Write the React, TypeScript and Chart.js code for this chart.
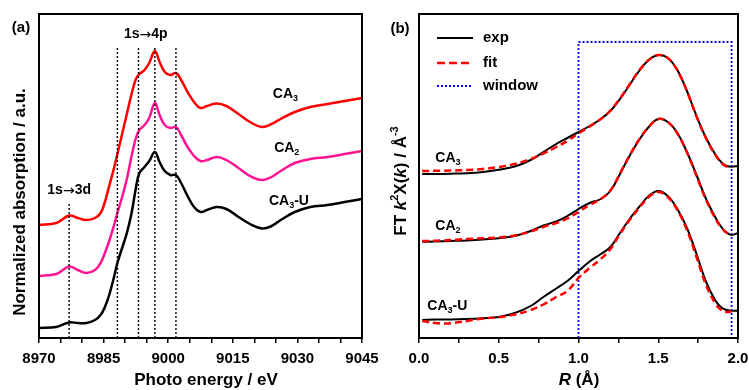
import React, { useEffect, useRef } from "react";
import { Chart, registerables } from "chart.js";

Chart.register(...registerables);

const FAMILY = "'Liberation Sans', Arial, Helvetica, sans-serif";

// ---------------- Panel (a): XANES ----------------
const energy = [
  8970, 8974, 8977, 8979, 8981, 8983, 8984.3, 8985.3, 8986.3, 8987.3, 8988.2, 8989.3, 8990.4,
  8991.5, 8992.5, 8993.3, 8994.5, 8995.6, 8996.9, 8998, 8999.2, 9000.5, 9001.8, 9003, 9004.5,
  9006, 9007.5, 9009, 9011.3, 9013.5, 9016, 9019, 9021.8, 9024, 9026.5, 9029.4, 9033, 9037, 9041, 9045,
];
const absCA3 = [
  1.13, 1.15, 1.225, 1.2, 1.18, 1.2, 1.25, 1.36, 1.52, 1.68, 1.84, 2.04, 2.24,
  2.44, 2.59, 2.64, 2.68, 2.75, 2.87, 2.76, 2.66, 2.63, 2.65, 2.58, 2.46,
  2.36, 2.3, 2.32, 2.345, 2.32, 2.25, 2.16, 2.11, 2.14, 2.2, 2.26, 2.31, 2.34, 2.37, 2.4,
];
const absCA2 = [
  0.62, 0.64, 0.715, 0.68, 0.65, 0.68, 0.75, 0.85, 0.97, 1.11, 1.25, 1.41, 1.59,
  1.82, 2.0, 2.08, 2.13, 2.2, 2.35, 2.23, 2.13, 2.1, 2.11, 2.03, 1.91,
  1.82, 1.77, 1.78, 1.81, 1.78, 1.71, 1.62, 1.58, 1.61, 1.68, 1.75, 1.79, 1.81, 1.84, 1.87,
];
const absCA3U = [
  0.1, 0.11, 0.155, 0.15, 0.15, 0.18, 0.23, 0.31, 0.43, 0.59, 0.75, 0.9, 1.05,
  1.25, 1.5, 1.65, 1.71, 1.77, 1.86, 1.76, 1.67, 1.63, 1.63, 1.55, 1.42,
  1.31, 1.26, 1.28, 1.31, 1.29, 1.22, 1.14, 1.095, 1.12, 1.19, 1.26, 1.31, 1.33, 1.36, 1.39,
];
const preEdgeLine = 8977;
const preEdgeTop = 1.35;
const mainEdgeLines = [8988.2, 8993.1, 8996.9, 9001.8];
const mainEdgeTop = 2.9;
const energyMin = 8970;
const energyMax = 9045;
const energyStep = 5;
const energyLabelEvery = 15;

// ---------------- Panel (b): FT-EXAFS ----------------
const rGrid = [
  0.02, 0.1, 0.2, 0.3, 0.4, 0.5, 0.6, 0.7, 0.78, 0.86, 0.93, 1.0, 1.07, 1.14, 1.2, 1.26,
  1.32, 1.38, 1.44, 1.5, 1.56, 1.62, 1.68, 1.74, 1.8, 1.86, 1.9, 1.93, 1.96, 2.0,
];
const expCA3 = [
  1.64, 1.64, 1.643, 1.648, 1.66, 1.683, 1.715, 1.78, 1.86, 1.94, 2.0, 2.06, 2.12, 2.19, 2.27, 2.39,
  2.53, 2.67, 2.78, 2.83, 2.8, 2.68, 2.47, 2.22, 2.0, 1.83, 1.75, 1.72, 1.713, 1.72,
];
const fitCA3 = [
  1.67, 1.672, 1.675, 1.68, 1.69, 1.71, 1.74, 1.79, 1.845, 1.91, 1.97, 2.045, 2.115, 2.19, 2.275, 2.395,
  2.535, 2.675, 2.78, 2.83, 2.8, 2.675, 2.465, 2.215, 1.995, 1.825, 1.745, 1.715, 1.71, null,
];
const expCA2 = [
  0.963, 0.965, 0.97, 0.976, 0.985, 0.998, 1.02, 1.07, 1.125, 1.165, 1.22, 1.29, 1.35, 1.39, 1.47, 1.64,
  1.82, 1.98, 2.11, 2.19, 2.16, 2.05, 1.86, 1.63, 1.39, 1.2, 1.1, 1.055, 1.03, 1.05,
];
const fitCA2 = [
  0.97, 0.972, 0.98, 0.99, 0.997, 1.005, 1.025, 1.065, 1.11, 1.15, 1.195, 1.26, 1.33, 1.39, 1.475, 1.645,
  1.825, 1.985, 2.11, 2.19, 2.16, 2.045, 1.855, 1.62, 1.38, 1.19, 1.095, 1.05, 1.03, null,
];
const expCA3U = [
  0.18, 0.185, 0.185, 0.19, 0.198, 0.21, 0.25, 0.32, 0.41, 0.495, 0.57, 0.67, 0.765, 0.84, 0.91, 1.05,
  1.19, 1.31, 1.42, 1.47, 1.42, 1.29, 1.1, 0.84, 0.56, 0.37, 0.3, 0.28, 0.273, 0.273,
];
const fitCA3U = [
  0.17, 0.15, 0.148, 0.17, 0.195, 0.208, 0.235, 0.28, 0.335, 0.41, 0.47, 0.6, 0.7, 0.79, 0.89, 1.04,
  1.18, 1.3, 1.41, 1.46, 1.41, 1.28, 1.08, 0.81, 0.53, 0.34, 0.275, 0.26, 0.265, null,
];
const windowR = [1.0, 1.96];
const windowTop = 2.96;
const rMin = 0;
const rMax = 2;
const rStep = 0.25;

const Y_MAX = 3.24;

const RED = "#FF0000";
const MAGENTA = "#FF1493";
const BLUE = "#0000FF";

type Run = { t: string; font: string; dy?: number };
const B = (s: number) => `bold ${s}px ${FAMILY}`;
const BI = (s: number) => `italic bold ${s}px ${FAMILY}`;
const ARROW = `14px 'DejaVu Sans', sans-serif`;

function drawRuns(ctx: CanvasRenderingContext2D, runs: Run[], x: number, y: number, align: "left" | "center", baseline: CanvasTextBaseline = "middle") {
  let w = 0;
  for (const r of runs) {
    ctx.font = r.font;
    w += ctx.measureText(r.t).width;
  }
  let cx = align === "center" ? x - w / 2 : x;
  ctx.textAlign = "left";
  ctx.textBaseline = baseline;
  ctx.fillStyle = "#000";
  for (const r of runs) {
    ctx.font = r.font;
    ctx.fillText(r.t, cx, y + (r.dy || 0));
    cx += ctx.measureText(r.t).width;
  }
}

const caLabel = (sub: string, tail = ""): Run[] => {
  const runs: Run[] = [
    { t: "CA", font: B(14) },
    { t: sub, font: B(9), dy: 5 },
  ];
  if (tail) runs.push({ t: tail, font: B(14) });
  return runs;
};

const transition = (a: string, b: string): Run[] => [
  { t: a, font: B(14) },
  { t: "\u2192", font: ARROW, dy: 1 },
  { t: b, font: B(14) },
];

const labelsA: { x: number; y: number; runs: Run[]; align: "left" | "center" }[] = [
  { x: 9024.3, y: 2.44, runs: caLabel("3"), align: "left" },
  { x: 9024.6, y: 1.9, runs: caLabel("2"), align: "left" },
  { x: 9023.4, y: 1.37, runs: caLabel("3", "-U"), align: "left" },
  { x: 8977, y: 1.48, runs: transition("1s", "3d"), align: "center" },
  { x: 8994.8, y: 3.04, runs: transition("1s", "4p"), align: "center" },
];

const labelsB: { x: number; y: number; runs: Run[]; align: "left" | "center" }[] = [
  { x: 0.102, y: 1.8, runs: caLabel("3"), align: "left" },
  { x: 0.102, y: 1.12, runs: caLabel("2"), align: "left" },
  { x: 0.052, y: 0.32, runs: caLabel("3", "-U"), align: "left" },
];

function frameAndText(opts: {
  labels: { x: number; y: number; runs: Run[]; align: "left" | "center" }[];
  panel: { t: string; x: number; y: number };
  xTitle: { runs: Run[]; x: number; y: number };
  yTitle: { runs: Run[]; x: number; y: number };
  legend?: boolean;
}) {
  return {
    id: "frameAndText",
    afterDraw(chart: any) {
      const ctx: CanvasRenderingContext2D = chart.ctx;
      const { left, top, right, bottom } = chart.chartArea;
      const xs = chart.scales.x;
      const ys = chart.scales.y;
      ctx.save();
      ctx.setLineDash([]);
      ctx.strokeStyle = "#000";
      ctx.lineWidth = 2;
      ctx.strokeRect(left, top, right - left, bottom - top);

      for (const l of opts.labels) {
        drawRuns(ctx, l.runs, xs.getPixelForValue(l.x), ys.getPixelForValue(l.y), l.align);
      }
      drawRuns(ctx, [{ t: opts.panel.t, font: B(15) }], opts.panel.x, opts.panel.y, "center");
      drawRuns(ctx, opts.xTitle.runs, opts.xTitle.x, opts.xTitle.y, "center", "alphabetic");

      ctx.save();
      ctx.translate(opts.yTitle.x, opts.yTitle.y);
      ctx.rotate(-Math.PI / 2);
      drawRuns(ctx, opts.yTitle.runs, 0, 0, "center");
      ctx.restore();

      if (opts.legend) {
        const items = [
          { t: "exp", color: "#000", dash: [] as number[], w: 2 },
          { t: "fit", color: RED, dash: [8, 4], w: 2.5 },
          { t: "window", color: BLUE, dash: [2, 2], w: 2 },
        ];
        const ly = [38, 63, 86];
        items.forEach((it, i) => {
          ctx.beginPath();
          ctx.setLineDash(it.dash);
          ctx.strokeStyle = it.color;
          ctx.lineWidth = it.w;
          ctx.moveTo(62, ly[i]);
          ctx.lineTo(98, ly[i]);
          ctx.stroke();
          ctx.setLineDash([]);
          drawRuns(ctx, [{ t: it.t, font: B(15) }], 108, ly[i], "left");
        });
      }
      ctx.restore();
    },
  };
}

const pts = (xs: number[], ys: (number | null)[]) => xs.map((x, i) => ({ x, y: ys[i] }));

const curve = (data: any[], color: string, width: number, dash: number[] = []) => ({
  data,
  borderColor: color,
  backgroundColor: color,
  borderWidth: width,
  borderDash: dash,
  pointRadius: 0,
  tension: 0.4,
  spanGaps: false,
});

const vline = (x: number, top: number) => ({
  data: [
    { x, y: 0 },
    { x, y: top },
  ],
  borderColor: "#000",
  borderWidth: 1.4,
  borderDash: [2, 2],
  pointRadius: 0,
});

const tickFont = { family: FAMILY, size: 15, weight: "bold" as const };

const fitAxis = (s: any) => {
  s.height = 52;
  s.paddingLeft = 0;
  s.paddingRight = 0;
};

export default function App() {
  const refA = useRef<HTMLCanvasElement>(null);
  const refB = useRef<HTMLCanvasElement>(null);

  useEffect(() => {
    const chartA = new Chart(refA.current!, {
      type: "line",
      data: {
        datasets: [
          vline(preEdgeLine, preEdgeTop),
          ...mainEdgeLines.map((e) => vline(e, mainEdgeTop)),
          curve(pts(energy, absCA3), RED, 2.5),
          curve(pts(energy, absCA2), MAGENTA, 2.5),
          curve(pts(energy, absCA3U), "#000", 2.5),
        ] as any,
      },
      options: {
        animation: false,
        responsive: false,
        maintainAspectRatio: false,
        layout: { padding: { left: 39, top: 14, right: 28, bottom: 0 } },
        plugins: { legend: { display: false }, tooltip: { enabled: false } },
        scales: {
          x: {
            type: "linear",
            min: energyMin,
            max: energyMax,
            ticks: {
              stepSize: energyStep,
              autoSkip: false,
              maxRotation: 0,
              padding: 7,
              color: "#000",
              font: tickFont,
              callback: (v: any) => (Math.round(v) % energyLabelEvery === 0 ? String(Math.round(v)) : ""),
            },
            grid: { drawOnChartArea: false, drawTicks: true, tickLength: 5, color: "#000", lineWidth: 1.5 },
            border: { display: false },
            afterFit: fitAxis,
          },
          y: { type: "linear", display: false, min: 0, max: Y_MAX },
        },
      } as any,
      plugins: [
        frameAndText({
          labels: labelsA,
          panel: { t: "(a)", x: 21, y: 28 },
          xTitle: { runs: [{ t: "Photo energy / eV", font: B(17) }], x: 206, y: 385 },
          yTitle: { runs: [{ t: "Normalized absorption / a.u.", font: B(17) }], x: 20.5, y: 202 },
        }),
      ],
    });

    const chartB = new Chart(refB.current!, {
      type: "line",
      data: {
        datasets: [
          curve(pts(rGrid, fitCA3), RED, 2.5, [7, 4]),
          curve(pts(rGrid, fitCA2), RED, 2.5, [7, 4]),
          curve(pts(rGrid, fitCA3U), RED, 2.5, [7, 4]),
          curve(pts(rGrid, expCA3), "#000", 2),
          curve(pts(rGrid, expCA2), "#000", 2),
          curve(pts(rGrid, expCA3U), "#000", 2),
          {
            data: [
              { x: windowR[0], y: 0 },
              { x: windowR[0], y: windowTop },
              { x: windowR[1], y: windowTop },
              { x: windowR[1], y: 0 },
            ],
            borderColor: BLUE,
            borderWidth: 1.8,
            borderDash: [2, 2],
            pointRadius: 0,
          },
        ] as any,
      },
      options: {
        animation: false,
        responsive: false,
        maintainAspectRatio: false,
        layout: { padding: { left: 44, top: 14, right: 11, bottom: 0 } },
        plugins: { legend: { display: false }, tooltip: { enabled: false } },
        scales: {
          x: {
            type: "linear",
            min: rMin,
            max: rMax,
            ticks: {
              stepSize: rStep,
              autoSkip: false,
              maxRotation: 0,
              padding: 7,
              color: "#000",
              font: tickFont,
              callback: (v: any) => (Math.abs(v * 2 - Math.round(v * 2)) < 1e-6 ? Number(v).toFixed(1) : ""),
            },
            grid: { drawOnChartArea: false, drawTicks: true, tickLength: 5, color: "#000", lineWidth: 1.5 },
            border: { display: false },
            afterFit: fitAxis,
          },
          y: { type: "linear", display: false, min: 0, max: Y_MAX },
        },
      } as any,
      plugins: [
        frameAndText({
          labels: labelsB,
          panel: { t: "(b)", x: 25, y: 29 },
          xTitle: {
            runs: [
              { t: "R", font: BI(17) },
              { t: " (\u00C5)", font: B(17) },
            ],
            x: 204,
            y: 385,
          },
          yTitle: {
            runs: [
              { t: "FT ", font: B(17) },
              { t: "k", font: BI(17) },
              { t: "2", font: B(11), dy: -6 },
              { t: "X(", font: B(17) },
              { t: "k", font: BI(17) },
              { t: ") / \u00C5", font: B(17) },
              { t: "-3", font: B(11), dy: -6 },
            ],
            x: 26,
            y: 181,
          },
          legend: true,
        }),
      ],
    });

    return () => {
      chartA.destroy();
      chartB.destroy();
    };
  }, []);

  return (
    <div style={{ position: "absolute", left: 0, top: 0, width: 749, height: 390, background: "#fff", overflow: "hidden" }}>
      <canvas ref={refA} width={390} height={390} style={{ position: "absolute", left: 0, top: 0, width: 390, height: 390 }} />
      <canvas ref={refB} width={374} height={390} style={{ position: "absolute", left: 375, top: 0, width: 374, height: 390 }} />
    </div>
  );
}
